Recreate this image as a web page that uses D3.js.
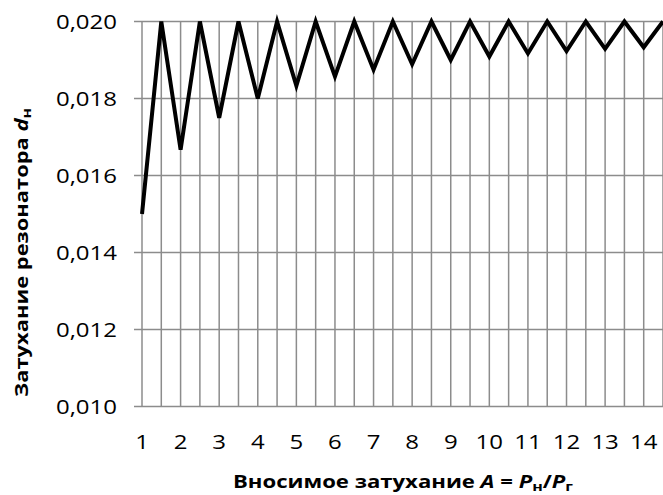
<!DOCTYPE html>
<html>
<head>
<meta charset="utf-8">
<script src="https://cdn.jsdelivr.net/npm/d3@7"></script>
<style>
  body { margin: 0; background: #fff; }
  svg text { font-family: "Open Sans", "DejaVu Sans", sans-serif; fill: #000; }
</style>
</head>
<body>
<div id="chart"></div>
<script>
// values
var xVals = [1, 1.5, 2, 2.5, 3, 3.5, 4, 4.5, 5, 5.5, 6, 6.5, 7, 7.5,
             8, 8.5, 9, 9.5, 10, 10.5, 11, 11.5, 12, 12.5, 13, 13.5, 14, 14.5];
var dVals = [0.0150, 0.0200, 0.01667, 0.0200, 0.0175, 0.0200, 0.0180, 0.0200,
             0.01833, 0.0200, 0.01857, 0.0200, 0.01875, 0.0200, 0.01889, 0.0200,
             0.0190, 0.0200, 0.01909, 0.0200, 0.01917, 0.0200, 0.01923, 0.0200,
             0.01929, 0.0200, 0.01933, 0.0200];
var xTicks = [1, 2, 3, 4, 5, 6, 7, 8, 9, 10, 11, 12, 13, 14];
var yTicks = [0.010, 0.012, 0.014, 0.016, 0.018, 0.020];

var width = 663, height = 495;
// the source picture looks stretched sideways, so text gets a wider scale
var stretch = 1.2;
var plot = {left: 142, right: 663, top: 21.5, bottom: 406.5};

var x = d3.scaleLinear().domain([1, 14.5]).range([plot.left, plot.right]);
var y = d3.scaleLinear().domain([0.010, 0.020]).range([plot.bottom, plot.top]);

var svg = d3.select('#chart').append('svg')
    .attr('width', width)
    .attr('height', height);

// vertical gridlines every half unit
svg.append('g').selectAll('line')
    .data(xVals)
    .enter().append('line')
    .attr('x1', function(d) { return x(d); })
    .attr('x2', function(d) { return x(d); })
    .attr('y1', plot.top)
    .attr('y2', plot.bottom)
    .attr('stroke', '#8c8c8c')
    .attr('stroke-width', 1.5);

// horizontal gridlines, reaching a bit past the left edge as tick marks
svg.append('g').selectAll('line')
    .data(yTicks)
    .enter().append('line')
    .attr('x1', plot.left - 8)
    .attr('x2', plot.right)
    .attr('y1', function(d) { return y(d); })
    .attr('y2', function(d) { return y(d); })
    .attr('stroke', '#8c8c8c')
    .attr('stroke-width', 1.5);

// y tick labels
svg.append('g').selectAll('text')
    .data(yTicks)
    .enter().append('text')
    .attr('transform', function(d) {
        return 'translate(117,' + (y(d) + 7) + ') scale(' + stretch + ',1)'; })
    .attr('text-anchor', 'end')
    .attr('font-size', 20)
    .text(function(d) { return d3.format('.3f')(d).replace('.', ','); });

// x tick labels
svg.append('g').selectAll('text')
    .data(xTicks)
    .enter().append('text')
    .attr('transform', function(d) {
        return 'translate(' + x(d) + ',449) scale(' + stretch + ',1)'; })
    .attr('text-anchor', 'middle')
    .attr('font-size', 20)
    .text(function(d) { return d; });

// the line
var line = d3.line()
    .x(function(d, i) { return x(xVals[i]); })
    .y(function(d) { return y(d); });

svg.append('path')
    .datum(dVals)
    .attr('d', line)
    .attr('fill', 'none')
    .attr('stroke', '#000')
    .attr('stroke-width', 4)
    .attr('stroke-linejoin', 'miter');

// x axis title, centred under the plot
var xt = svg.append('text')
    .attr('x', 233)
    .attr('y', 488)
    .attr('textLength', 340)
    .attr('lengthAdjust', 'spacingAndGlyphs')
    .attr('font-size', 18)
    .attr('font-weight', 'bold');
xt.append('tspan').text('Вносимое затухание ');
xt.append('tspan').attr('font-style', 'italic').text('A');
xt.append('tspan').text(' = ');
xt.append('tspan').attr('font-style', 'italic').text('P');
xt.append('tspan').attr('font-size', 13).attr('dy', 3).text('н');
xt.append('tspan').attr('dy', -3).text('/');
xt.append('tspan').attr('font-style', 'italic').text('P');
xt.append('tspan').attr('font-size', 13).attr('dy', 3).text('г');

// y axis title
var yt = svg.append('text')
    .attr('transform', 'translate(28,397) rotate(-90)')
    .attr('textLength', 289)
    .attr('lengthAdjust', 'spacingAndGlyphs')
    .attr('font-size', 18)
    .attr('font-weight', 'bold');
yt.append('tspan').text('Затухание резонатора ');
yt.append('tspan').attr('font-style', 'italic').text('d');
yt.append('tspan').attr('font-size', 13).attr('dy', 3).text('н');
</script>
</body>
</html>
